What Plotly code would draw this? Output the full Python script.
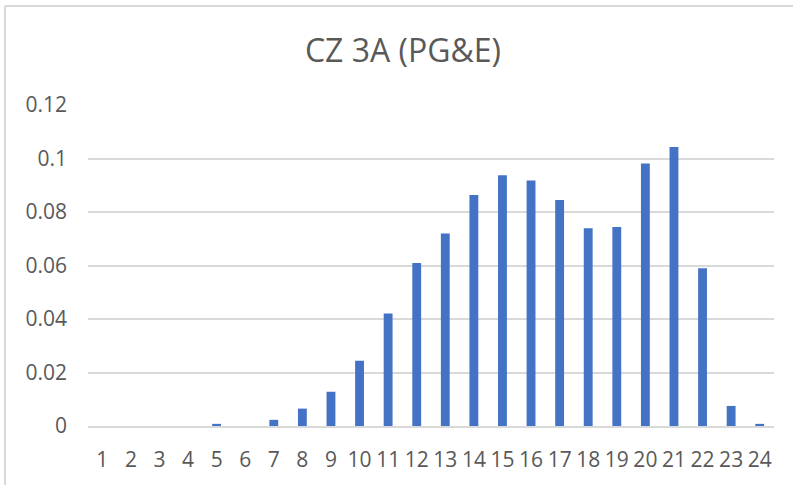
import plotly.graph_objects as go

categories = [str(i) for i in range(1, 25)]
values = [0, 0, 0, 0, 0.0008, 0, 0.0023, 0.0065, 0.0128, 0.0244, 0.0421, 0.0609,
          0.0720, 0.0864, 0.0937, 0.0918, 0.0845, 0.0739, 0.0744, 0.0981, 0.1043,
          0.0590, 0.0075, 0.0008]
y_ticks = [0, 0.02, 0.04, 0.06, 0.08, 0.1, 0.12]
y_tick_labels = ["0", "0.02", "0.04", "0.06", "0.08", "0.1", "0.12"]
title_text = "CZ 3A (PG&E)"

W, H = 793, 485
L, R, T, B = 88, 19, 105, 59
pw, ph = W - L - R, H - T - B

def px_x(x):
    return (x - L) / pw

def px_y(y):
    return (H - B - y) / ph

text_col = "#595959"
grid_col = "#d9d9d9"
font_family = "Open Sans, Noto Sans, sans-serif"

fig = go.Figure(go.Bar(x=categories, y=values, marker=dict(color="#4472c4", line=dict(width=0))))

fig.update_layout(
    width=W, height=H,
    margin=dict(l=L, r=R, t=T, b=B),
    paper_bgcolor="white", plot_bgcolor="white",
    bargap=0.69,
    showlegend=False,
    font=dict(family=font_family, color=text_col, size=21),
    title=dict(text=title_text, x=403 / W, xanchor="center", y=1 - 51 / H, yanchor="middle",
               yref="container", xref="container",
               font=dict(family=font_family, size=32, color=text_col)),
    xaxis=dict(type="category", showgrid=False, showline=True, linecolor=grid_col, linewidth=1.5,
               ticks="", tickfont=dict(size=21, color=text_col), ticklabelstandoff=14,
               fixedrange=True),
    yaxis=dict(range=[0, 0.12], tickvals=y_ticks, ticktext=y_tick_labels,
               showgrid=True, gridcolor=grid_col, gridwidth=1.5, zeroline=False,
               showline=False, ticks="", tickfont=dict(size=21, color=text_col),
               ticklabelstandoff=20, fixedrange=True),
    shapes=[
        dict(type="line", xref="paper", yref="paper", x0=px_x(5), x1=px_x(W + 5), y0=px_y(6), y1=px_y(6),
             line=dict(color=grid_col, width=2)),
        dict(type="line", xref="paper", yref="paper", x0=px_x(5), x1=px_x(5), y0=px_y(6), y1=px_y(H + 5),
             line=dict(color=grid_col, width=2)),
    ],
)

fig.write_html("out.html", config={"displayModeBar": False},
               post_script="document.body.style.margin='0px';document.body.style.overflow='hidden';")
